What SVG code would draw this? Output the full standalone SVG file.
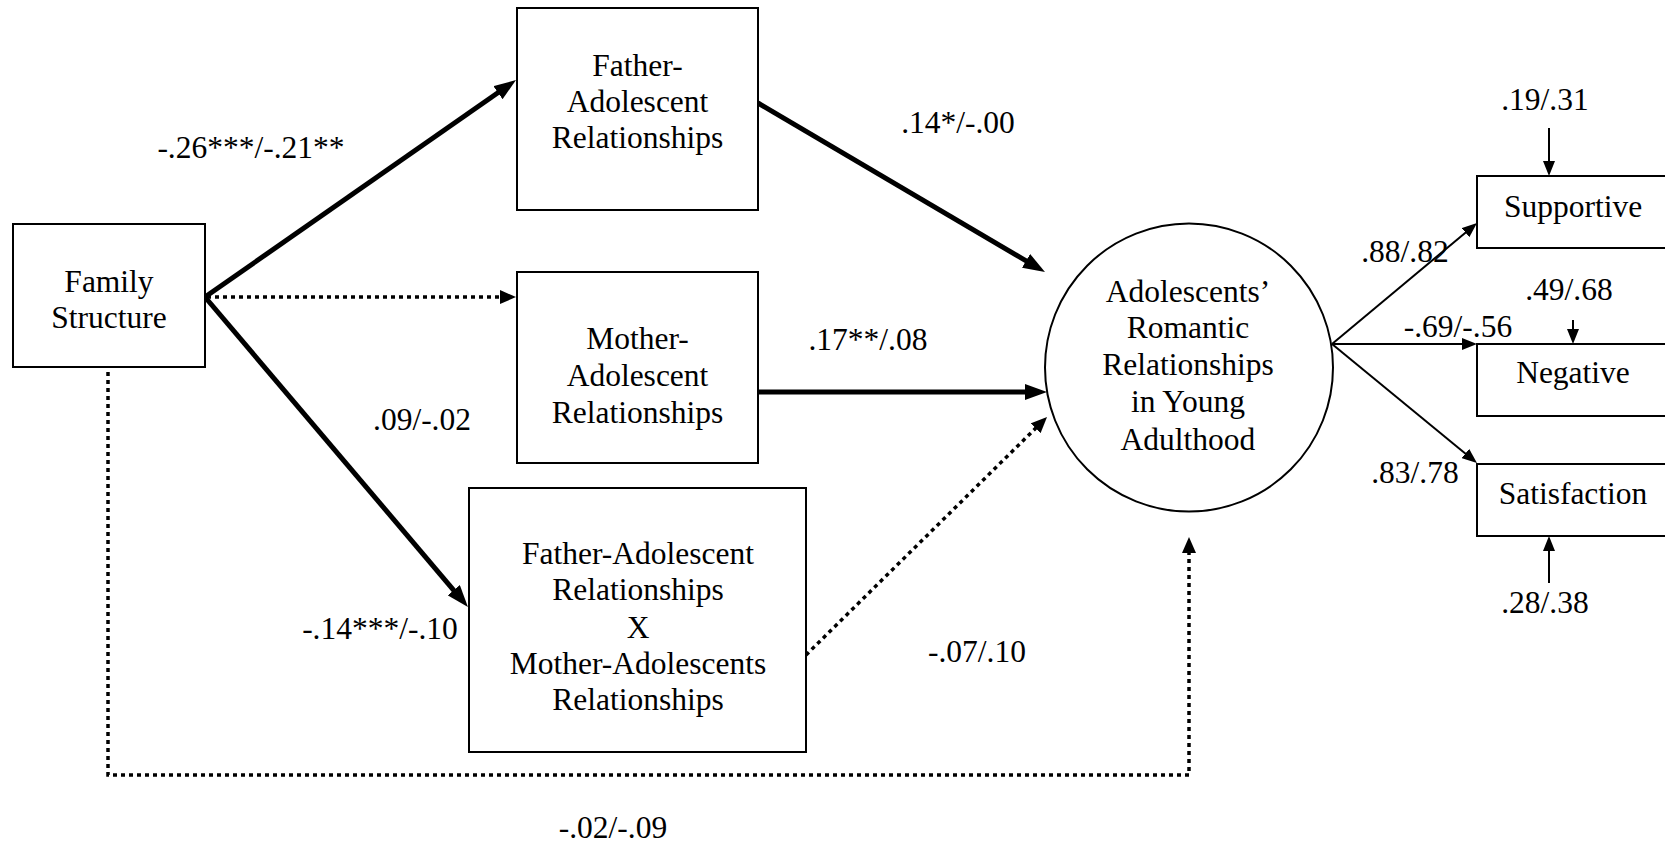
<svg xmlns="http://www.w3.org/2000/svg" width="1665" height="845" viewBox="0 0 1665 845" font-family="'Liberation Serif', 'DejaVu Serif', serif">
<style>
text{font-family:'Liberation Serif','DejaVu Serif',serif;font-size:31.5px;fill:#000;text-anchor:middle}
.box{fill:#fff;stroke:#000;stroke-width:2}
.thick{fill:none;stroke:#000;stroke-width:5}
.dot{fill:none;stroke:#000;stroke-width:3.5;stroke-dasharray:4 4}
.thin{fill:none;stroke:#000;stroke-width:2}
</style>
<defs>
<marker id="ah" markerUnits="userSpaceOnUse" markerWidth="22" markerHeight="16" refX="6" refY="8" orient="auto"><path d="M0,0 L22,8 L0,16 z" fill="#000"/></marker>
<marker id="ahs" markerUnits="userSpaceOnUse" markerWidth="16" markerHeight="14" refX="4" refY="7" orient="auto"><path d="M0,0 L16,7 L0,14 z" fill="#000"/></marker>
<marker id="aht" markerUnits="userSpaceOnUse" markerWidth="15" markerHeight="12" refX="3" refY="6" orient="auto"><path d="M0,0 L15,6 L0,12 z" fill="#000"/></marker>
</defs>
<rect width="1665" height="845" fill="#fff"/>

<g id="connectors">
<line class="thick" x1="205" y1="297" x2="502.9" y2="89.2" marker-end="url(#ah)"/>
<line class="thick" x1="205" y1="297" x2="457.6" y2="594.8" marker-end="url(#ah)"/>
<line class="thick" x1="758" y1="103" x2="1031.2" y2="263.9" marker-end="url(#ah)"/>
<line class="thick" x1="758" y1="392" x2="1031" y2="392" marker-end="url(#ah)"/>
<line class="dot" x1="207" y1="297" x2="504" y2="297" marker-end="url(#ahs)"/>
<line class="dot" x1="806" y1="655" x2="1038.5" y2="425.4" marker-end="url(#ahs)"/>
<polyline class="dot" points="108,372 108,775 1189,775 1189,549" marker-end="url(#ahs)"/>
<line class="thin" x1="1332" y1="344" x2="1467.8" y2="230.7" marker-end="url(#aht)"/>
<line class="thin" x1="1332" y1="344" x2="1465" y2="344" marker-end="url(#aht)"/>
<line class="thin" x1="1332" y1="344" x2="1467.7" y2="455.4" marker-end="url(#aht)"/>
<line class="thin" x1="1549" y1="128" x2="1549" y2="164" marker-end="url(#aht)"/>
<line class="thin" x1="1573" y1="320" x2="1573" y2="332" marker-end="url(#aht)"/>
<line class="thin" x1="1549" y1="583" x2="1549" y2="548" marker-end="url(#aht)"/>
</g>

<g id="family">
<rect class="box" x="13" y="224" width="192" height="143"/>
<text x="109" y="292">Family</text>
<text x="109" y="328">Structure</text>
</g>
<g id="father">
<rect class="box" x="517" y="8" width="241" height="202"/>
<text x="637.5" y="76">Father-</text>
<text x="637.5" y="112">Adolescent</text>
<text x="637.5" y="148">Relationships</text>
</g>
<g id="mother">
<rect class="box" x="517" y="272" width="241" height="191"/>
<text x="637.5" y="349">Mother-</text>
<text x="637.5" y="386">Adolescent</text>
<text x="637.5" y="423">Relationships</text>
</g>
<g id="interaction">
<rect class="box" x="469" y="488" width="337" height="264"/>
<text x="638" y="564">Father-Adolescent</text>
<text x="638" y="600">Relationships</text>
<text x="638" y="638">X</text>
<text x="638" y="674">Mother-Adolescents</text>
<text x="638" y="710">Relationships</text>
</g>
<g id="romantic">
<circle cx="1189" cy="367.5" r="144" fill="#fff" stroke="#000" stroke-width="2"/>
<text x="1188" y="302">Adolescents’</text>
<text x="1188" y="338">Romantic</text>
<text x="1188" y="375">Relationships</text>
<text x="1188" y="412">in Young</text>
<text x="1188" y="450">Adulthood</text>
</g>
<g id="supportive">
<rect class="box" x="1477" y="176" width="220" height="72"/>
<text x="1573" y="217">Supportive</text>
</g>
<g id="negative">
<rect class="box" x="1477" y="344" width="220" height="72"/>
<text x="1573" y="383">Negative</text>
</g>
<g id="satisfaction">
<rect class="box" x="1477" y="464" width="220" height="72"/>
<text x="1573" y="504">Satisfaction</text>
</g>

<g id="labels">
<text x="251" y="158">-.26***/-.21**</text>
<text x="958" y="133">.14*/-.00</text>
<text x="422" y="430">.09/-.02</text>
<text x="868" y="350">.17**/.08</text>
<text x="380" y="639">-.14***/-.10</text>
<text x="977" y="662">-.07/.10</text>
<text x="613" y="838">-.02/-.09</text>
<text x="1545" y="110">.19/.31</text>
<text x="1405" y="262">.88/.82</text>
<text x="1569" y="300">.49/.68</text>
<text x="1458" y="337">-.69/-.56</text>
<text x="1415" y="483">.83/.78</text>
<text x="1545" y="613">.28/.38</text>
</g>
</svg>
